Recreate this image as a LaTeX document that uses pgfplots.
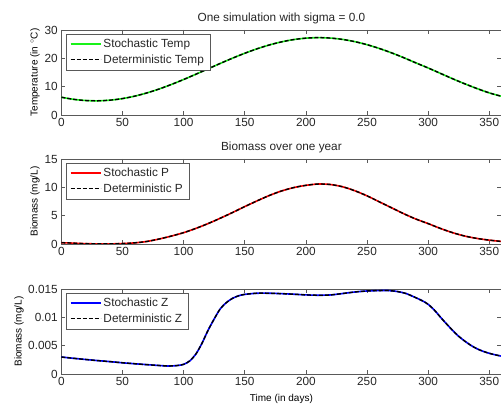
\documentclass[border=0pt]{standalone}
\usepackage{pgfplots}
\pgfplotsset{compat=1.18}
\usepackage{fontspec}
\setmainfont{Liberation Sans}
\newcommand{\myfont}{\fontsize{11.8}{13.5}\selectfont}
\definecolor{mgreen}{rgb}{0.1,0.95,0.1}
\definecolor{axgray}{gray}{0.35}
\pgfplotsset{
  myaxis/.style={
    scale only axis, width=440.2pt, height=85pt,
    xmin=0, xmax=360, xtick={0,50,...,350},
    anchor=south west,
    tick align=inside, major tick length=4pt,
    axis line style={axgray, line width=0.6pt},
    every tick/.style={axgray, line width=0.6pt},
    tick label style={font=\myfont, text=black!85},
    /pgf/number format/assume math mode=true,
    label style={font=\myfont, text=black!85},
    title style={font=\myfont, text=black!85, at={(axis description cs:0.5,1.03)}, anchor=base},
    every axis y label/.style={at={(axis description cs:-0.0598,0.5)}, rotate=90, anchor=center},
    legend style={font=\myfont, at={(axis description cs:0.01,0.953)}, anchor=north west,
      draw=axgray, fill=white, inner xsep=4pt, inner ysep=3pt,
      row sep=1.5pt, nodes={inner sep=2pt, text=black!85}},
    legend cell align=left,
    legend image code/.code={\draw[##1] (0pt,0pt) -- (30pt,0pt);},
    clip=true,
  },
  stoch/.style={line width=1.6pt, smooth},
  det/.style={black, line width=1.4pt, dash pattern=on 4pt off 2pt, smooth},
}
\begin{document}
\begin{tikzpicture}
\path[use as bounding box] (0,0) rectangle (501pt,413pt);
\clip (0,0) rectangle (501pt,413pt);
% ---------- Temperature ----------
\begin{axis}[myaxis, at={(61.3pt,298pt)},
  ymin=0, ymax=30, ytick={0,10,20,30},
  title={One simulation with sigma = 0.0},
  ylabel={Temperature (in $^{\circ}$C)}]
\addplot[stoch, color=mgreen] coordinates {
(0,6.27)(10,5.53)(20,5.11)(30,5.01)(40,5.24)(50,5.79)(60,6.65)(70,7.79)(80,9.18)(90,10.77)
(100,12.52)(110,14.38)(120,16.29)(130,18.20)(140,20.05)(150,21.78)(160,23.35)(170,24.70)
(180,25.80)(190,26.61)(200,27.12)(210,27.30)(220,27.15)(230,26.68)(240,25.89)(250,24.82)
(260,23.49)(270,21.95)(280,20.23)(290,18.39)(300,16.60)(310,14.70)(320,12.80)(330,11.00)
(340,9.33)(350,7.80)(360,6.60)};
\addlegendentry{Stochastic Temp}
\addplot[det] coordinates {
(0,6.27)(10,5.53)(20,5.11)(30,5.01)(40,5.24)(50,5.79)(60,6.65)(70,7.79)(80,9.18)(90,10.77)
(100,12.52)(110,14.38)(120,16.29)(130,18.20)(140,20.05)(150,21.78)(160,23.35)(170,24.70)
(180,25.80)(190,26.61)(200,27.12)(210,27.30)(220,27.15)(230,26.68)(240,25.89)(250,24.82)
(260,23.49)(270,21.95)(280,20.23)(290,18.39)(300,16.60)(310,14.70)(320,12.80)(330,11.00)
(340,9.33)(350,7.80)(360,6.60)};
\addlegendentry{Deterministic Temp}
\end{axis}
% ---------- Phytoplankton ----------
\begin{axis}[myaxis, at={(61.3pt,169pt)},
  ymin=0, ymax=15, ytick={0,5,10,15},
  title={Biomass over one year},
  ylabel={Biomass (mg/L)}]
\addplot[stoch, color=red] coordinates {
(0,0.22)(5,0.20)(10,0.15)(20,0.06)(30,0.02)(40,0.02)(50,0.08)(60,0.20)(70,0.45)(80,0.88)
(90,1.40)(100,2.00)(110,2.75)(120,3.60)(130,4.55)(140,5.55)(150,6.60)(160,7.60)(170,8.55)
(180,9.35)(190,9.95)(200,10.35)(210,10.58)(220,10.50)(230,10.10)(240,9.40)(250,8.50)
(260,7.45)(270,6.40)(280,5.35)(290,4.40)(300,3.60)(310,2.75)(320,2.00)(330,1.40)(340,0.98)
(350,0.68)(360,0.45)};
\addlegendentry{Stochastic P}
\addplot[det] coordinates {
(0,0.22)(5,0.20)(10,0.15)(20,0.06)(30,0.02)(40,0.02)(50,0.08)(60,0.20)(70,0.45)(80,0.88)
(90,1.40)(100,2.00)(110,2.75)(120,3.60)(130,4.55)(140,5.55)(150,6.60)(160,7.60)(170,8.55)
(180,9.35)(190,9.95)(200,10.35)(210,10.58)(220,10.50)(230,10.10)(240,9.40)(250,8.50)
(260,7.45)(270,6.40)(280,5.35)(290,4.40)(300,3.60)(310,2.75)(320,2.00)(330,1.40)(340,0.98)
(350,0.68)(360,0.45)};
\addlegendentry{Deterministic P}
\end{axis}
% ---------- Zooplankton ----------
\begin{axis}[myaxis, at={(61.3pt,39pt)},
  ymin=0, ymax=0.015, ytick={0,0.005,0.01,0.015},
  yticklabels={0,0.005,0.01,0.015}, scaled y ticks=false,
  xlabel={Time (in days)},
  every axis x label/.style={at={(axis description cs:0.5,-0.329)}, anchor=base},
  every axis y label/.style={at={(axis description cs:-0.0961,0.5)}, rotate=90, anchor=center},
  ylabel={Biomass (mg/L)}]
\addplot[stoch, color=blue] coordinates {
(0,0.00300)(10,0.00277)(20,0.00256)(30,0.00236)(40,0.00218)(50,0.00198)(60,0.00181)
(70,0.00165)(80,0.00150)(88,0.00141)(95,0.00150)(100,0.00170)(105,0.00230)(110,0.00350)
(115,0.00540)(120,0.00770)(125,0.00970)(130,0.01150)(135,0.01260)(140,0.01335)(145,0.01380)
(150,0.01405)(160,0.01425)(170,0.01425)(180,0.01418)(190,0.01408)(200,0.01396)(210,0.01390)
(220,0.01395)(230,0.01420)(240,0.01447)(250,0.01465)(260,0.01472)(267,0.01473)(275,0.01455)
(282,0.01420)(288,0.01365)(295,0.01295)(300,0.01230)(305,0.01130)(310,0.01005)(315,0.00885)
(320,0.00770)(325,0.00665)(330,0.00580)(335,0.00505)(340,0.00445)(345,0.00400)(350,0.00365)
(355,0.00338)(360,0.00315)};
\addlegendentry{Stochastic Z}
\addplot[det] coordinates {
(0,0.00300)(10,0.00277)(20,0.00256)(30,0.00236)(40,0.00218)(50,0.00198)(60,0.00181)
(70,0.00165)(80,0.00150)(88,0.00141)(95,0.00150)(100,0.00170)(105,0.00230)(110,0.00350)
(115,0.00540)(120,0.00770)(125,0.00970)(130,0.01150)(135,0.01260)(140,0.01335)(145,0.01380)
(150,0.01405)(160,0.01425)(170,0.01425)(180,0.01418)(190,0.01408)(200,0.01396)(210,0.01390)
(220,0.01395)(230,0.01420)(240,0.01447)(250,0.01465)(260,0.01472)(267,0.01473)(275,0.01455)
(282,0.01420)(288,0.01365)(295,0.01295)(300,0.01230)(305,0.01130)(310,0.01005)(315,0.00885)
(320,0.00770)(325,0.00665)(330,0.00580)(335,0.00505)(340,0.00445)(345,0.00400)(350,0.00365)
(355,0.00338)(360,0.00315)};
\addlegendentry{Deterministic Z}
\end{axis}
\end{tikzpicture}
\end{document}
